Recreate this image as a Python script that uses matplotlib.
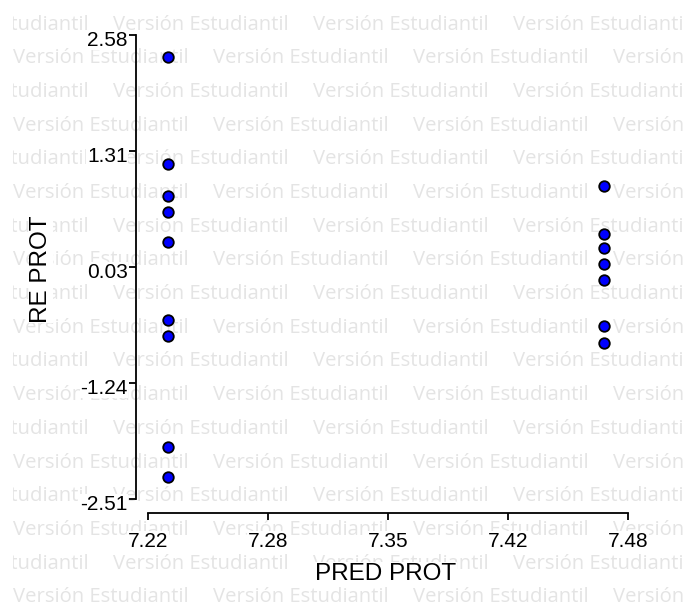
import matplotlib
matplotlib.use("Agg")
import matplotlib.pyplot as plt
from matplotlib.transforms import Bbox, ScaledTranslation

# Data (residuals vs predicted)
pred_low = [7.2308] * 9
resid_low = [2.342, 1.162, 0.814, 0.635, 0.306, -0.547, -0.722, -1.936, -2.266]
pred_high = [7.467] * 7
resid_high = [0.924, 0.394, 0.240, 0.065, -0.108, -0.612, -0.796]

x_ticks = [7.22, 7.285, 7.35, 7.415, 7.48]
x_tick_labels = ["7.22", "7.28", "7.35", "7.42", "7.48"]
y_ticks = [-2.51, -1.2375, 0.035, 1.3075, 2.58]
y_tick_labels = ["-2.51", "-1.24", "0.03", "1.31", "2.58"]

x_label = "PRED PROT"
y_label = "RE PROT"
watermark = "Versión Estudiantil"

W, H = 685, 610
DPI = 100

fig = plt.figure(figsize=(W / DPI, H / DPI), dpi=DPI)
fig.patch.set_facecolor("white")

# Watermark rows behind everything
clip = Bbox.from_extents(13, 0, W, H)
for row in range(18):
    baseline = 29.5 + 33.7 * row
    start = 113 if row % 2 == 0 else 13
    x0 = start - 200
    while x0 < W:
        t = fig.text(x0 / W, 1 - baseline / H, watermark,
                     family="Open Sans", fontsize=14.6, color="#e4e4e4",
                     ha="left", va="baseline", zorder=-5)
        t.set_clip_box(clip)
        t.set_clip_on(True)
        x0 += 200

ax = fig.add_axes([148 / W, 1 - 499 / H, (628 - 148) / W, (499 - 35) / H])
ax.patch.set_visible(False)

ax.plot(pred_low, resid_low, "o", ms=7.6, mfc="#0000ff", mec="black",
        mew=1.3, clip_on=False, zorder=5)
ax.plot(pred_high, resid_high, "o", ms=7.6, mfc="#0000ff", mec="black",
        mew=1.3, clip_on=False, zorder=5)

ax.set_xlim(7.22, 7.48)
ax.set_ylim(-2.51, 2.58)

for side in ["top", "right"]:
    ax.spines[side].set_visible(False)
ax.spines["left"].set_position(("outward", 12 * 72 / DPI))
ax.spines["bottom"].set_position(("outward", 14 * 72 / DPI))
ax.spines["left"].set_bounds(-2.51, 2.58)
ax.spines["bottom"].set_bounds(7.22, 7.48)
for side in ["left", "bottom"]:
    ax.spines[side].set_linewidth(1.3)

ax.set_xticks(x_ticks, x_tick_labels)
ax.set_yticks(y_ticks, y_tick_labels)
ax.tick_params(axis="both", length=5, width=1.3, labelsize=15,
               labelfontfamily="Liberation Sans")
ax.tick_params(axis="x", pad=8.5)
ax.tick_params(axis="y", pad=1)

# y labels sit a little below their ticks in the reference
shift = ScaledTranslation(0, -3 / DPI, fig.dpi_scale_trans)
for lab in ax.get_yticklabels():
    lab.set_transform(lab.get_transform() + shift)

for lab in ax.get_xticklabels() + ax.get_yticklabels():
    lab.set_bbox(dict(facecolor="white", edgecolor="none", pad=0.5))

fig.text(386 / W, 1 - 573.5 / H, x_label, family="Liberation Sans",
         fontsize=17.5, ha="center", va="center",
         bbox=dict(facecolor="white", edgecolor="none", pad=0.5))
fig.text(41 / W, 1 - 269 / H, y_label, family="Liberation Sans",
         fontsize=17.5, rotation=90, ha="center", va="center",
         bbox=dict(facecolor="white", edgecolor="none", pad=0.5))

fig.savefig("out.png", dpi=DPI, facecolor="white")
